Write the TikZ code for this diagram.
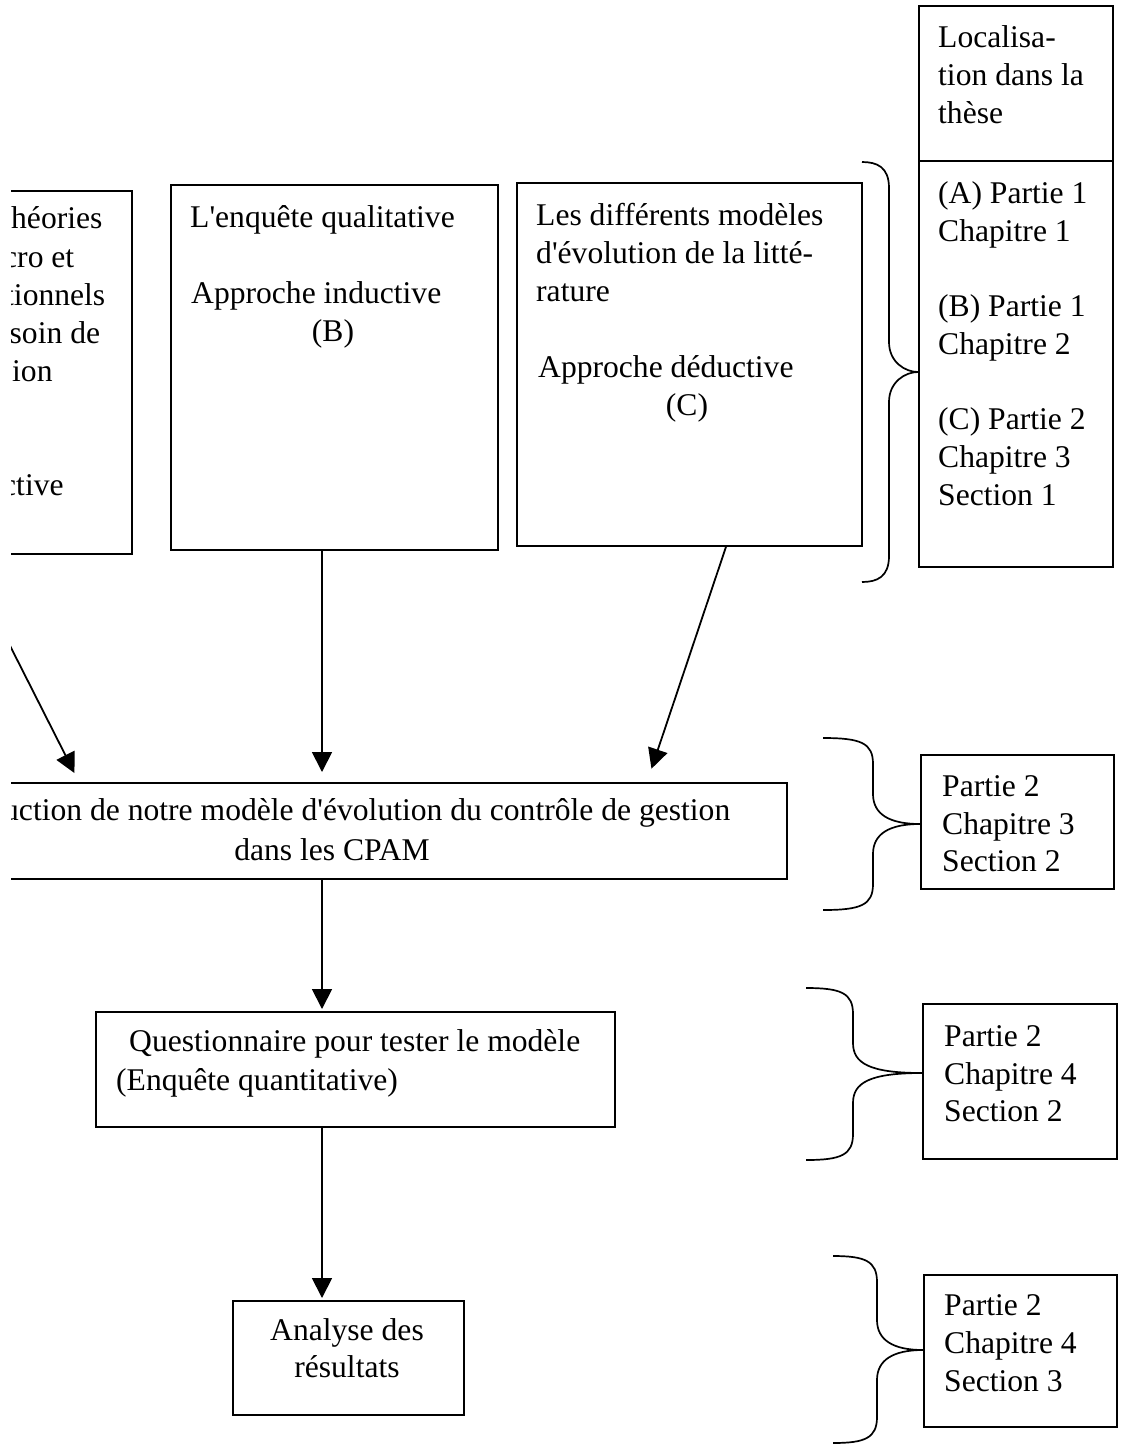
\documentclass[tikz,border=0pt]{standalone}
\usepackage{fontspec}
\newfontfamily\tnr{Liberation Serif}
\usetikzlibrary{arrows.meta}
\newcommand\bracepath[6]{%
  \draw[brace] (#1,#2) .. controls (#3-12,#2) and (#3,#2+5) .. (#3,#2+26)
    -- (#3,#5-30) .. controls (#3,#5-10) and (#3+16,#5) .. (#4,#5)
    .. controls (#3+16,#5) and (#3,#5+10) .. (#3,#5+30)
    -- (#3,#6-26) .. controls (#3,#6-5) and (#3-12,#6) .. (#1,#6);}
\begin{document}
\begin{tikzpicture}[x=1pt,y=-1pt,
  box/.style={draw, line width=1.8pt, inner sep=0pt, anchor=north west},
  txt/.style={anchor=base west, inner sep=0pt, font=\tnr\fontsize{31.6}{38}\selectfont},
  ctxt/.style={txt, anchor=base},
  arr/.style={line width=1.8pt, -{Triangle[length=20pt,width=20pt]}},
  brace/.style={line width=1.7pt}]
\useasboundingbox (0,0) rectangle (1123,1446);
\begin{scope}
\clip (11,0) rectangle (1123,1446);
% boxes
\node[box, minimum width=300pt, minimum height=363pt] (A) at (-169,190) {};
\node[box, minimum width=327pt, minimum height=365pt] (B) at (170,184) {};
\node[box, minimum width=345pt, minimum height=363pt] (C) at (516,182) {};
\node[box, minimum width=194pt, minimum height=561pt] (L) at (918,5) {};
\coordinate (ldiv) at (0,161);
\draw[line width=1.8pt] (L.west |- ldiv) -- (L.east |- ldiv);
\node[box, minimum width=900pt, minimum height=96pt] (D) at (-114,782) {};
\node[box, minimum width=193pt, minimum height=134pt] (R2) at (920,754) {};
\node[box, minimum width=519pt, minimum height=115pt] (E) at (95,1011) {};
\node[box, minimum width=194pt, minimum height=155pt] (R3) at (922,1003) {};
\node[box, minimum width=231pt, minimum height=114pt] (F) at (232,1300) {};
\node[box, minimum width=193pt, minimum height=152pt] (R4) at (923,1274) {};
% texts A
\node[txt] (a1) at (11,228) {héories};
\node[txt] (a2) at (3,267) {cro et};
\node[txt] (a3) at (5,305) {tionnels};
\node[txt] (a4) at (9.5,343) {soin de};
\node[txt] (a5) at (12,381) {ion};
\node[txt] (a6) at (2,495) {ctive};
% texts B
\node[txt] (b1) at (190,227) {L'enquête qualitative};
\node[txt] (b2) at (191,303) {Approche inductive};
\node[ctxt] (b3) at (333,341) {(B)};
% texts C
\node[txt] (c1) at (536,225) {Les différents modèles};
\node[txt] (c2) at (536,263) {d'évolution de la litté-};
\node[txt] (c3) at (536,301) {rature};
\node[txt] (c4) at (538,377) {Approche déductive};
\node[ctxt] (c5) at (687,415) {(C)};
% localisation
\node[txt] (l1) at (938,47) {Localisa-};
\node[txt] (l2) at (938,85) {tion dans la};
\node[txt] (l3) at (938,123) {thèse};
\node[txt] (l4) at (938,203) {(A) Partie 1};
\node[txt] (l5) at (938,241) {Chapitre 1};
\node[txt] (l6) at (938,316) {(B) Partie 1};
\node[txt] (l7) at (938,354) {Chapitre 2};
\node[txt] (l8) at (938,429) {(C) Partie 2};
\node[txt] (l9) at (938,467) {Chapitre 3};
\node[txt] (l10) at (938,505) {Section 1};
% D
\node[txt] (d1) at (3,820) {uction de notre modèle d'évolution du contrôle de gestion};
\node[ctxt] (d2) at (332,860) {dans les CPAM};
% R2
\node[txt] (r21) at (942,796) {Partie 2};
\node[txt] (r22) at (942,834) {Chapitre 3};
\node[txt] (r23) at (942,871) {Section 2};
% E
\node[txt] (e1) at (129,1051) {Questionnaire pour tester le modèle};
\node[txt] (e2) at (116,1090) {(Enquête quantitative)};
% R3
\node[txt] (r31) at (944,1046) {Partie 2};
\node[txt] (r32) at (944,1084) {Chapitre 4};
\node[txt] (r33) at (944,1121) {Section 2};
% F
\node[ctxt] (f1) at (347,1340) {Analyse des};
\node[ctxt] (f2) at (347,1377) {résultats};
% R4
\node[txt] (r41) at (944,1315) {Partie 2};
\node[txt] (r42) at (944,1353) {Chapitre 4};
\node[txt] (r43) at (944,1391) {Section 3};
% arrows
\coordinate (ax) at (322,0);
\coordinate (as) at (-36,0);
\coordinate (ae) at (79,0);
\coordinate (cs) at (726,0);
\coordinate (ce) at (647,0);
\draw[arr, shorten >=10pt] (A.south -| as) -- (D.north -| ae);
\draw[arr, shorten >=10pt] (B.south -| ax) -- (D.north -| ax);
\draw[arr, shorten >=14pt] (C.south -| cs) -- (D.north -| ce);
\draw[arr, shorten >=2pt] (D.south -| ax) -- (E.north -| ax);
\draw[arr, shorten >=2pt] (E.south -| ax) -- (F.north -| ax);
% braces
\bracepath{862}{162}{889}{918}{372}{582}
\bracepath{823}{738}{873}{920}{824}{910}
\bracepath{806}{988}{853}{922}{1073}{1160}
\bracepath{833}{1256}{877}{923}{1350}{1443}
\end{scope}
\end{tikzpicture}
\end{document}
